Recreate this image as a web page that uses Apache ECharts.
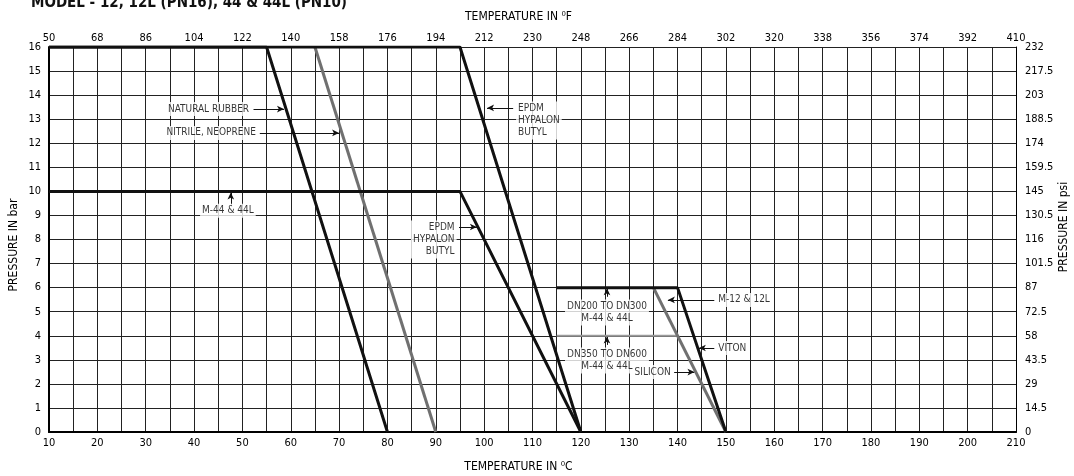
<!DOCTYPE html>
<html><head><meta charset="utf-8">
<script src="https://cdn.jsdelivr.net/npm/echarts@6/dist/echarts.min.js"></script>
<style>html,body{margin:0;padding:0;background:#fff}#c{width:1074px;height:476px}</style>
</head><body><div id="c"></div>
<script>
// ---- data (°C, bar) ----
const naturalRubber = [[10,16],[55,16],[80,0]];
const nitrileNeoprene = [[65,16],[90,0]];
const epdmPN16 = [[10,16],[95,16],[120,0]];
const m44PN10 = [[10,10],[95,10],[120,0]];
const m12Viton = [[115,6],[140,6],[150,0]];
const silicon = [[135,6],[150,0]];
const dn350Line = [[115,4],[140,4]];
// annotation texts and anchor points [°C, bar]
const annotations = [
  {text:'NATURAL RUBBER', at:[51.8,13.42], align:'right'},
  {text:'NITRILE, NEOPRENE', at:[53.2,12.43], align:'right'},
  {text:'EPDM\nHYPALON\nBUTYL', at:[106.6,12.95], align:'left'},
  {text:'M-44 & 44L', at:[47.0,9.2], align:'center'},
  {text:'EPDM\nHYPALON\nBUTYL', at:[94.3,8.0], align:'right'},
  {text:'DN200 TO DN300\nM-44 & 44L', at:[125.4,4.97], align:'center'},
  {text:'DN350 TO DN600\nM-44 & 44L', at:[125.4,2.97], align:'center'},
  {text:'M-12 & 12L', at:[148.0,5.49], align:'left'},
  {text:'VITON', at:[148.0,3.49], align:'left'},
  {text:'SILICON', at:[139.0,2.49], align:'right'}
];
// leader arrows: from -> to  [°C, bar]
const leaders = [
  [[52.3,13.42],[58.6,13.42]],
  [[53.6,12.43],[70.0,12.43]],
  [[106.0,13.47],[100.6,13.47]],
  [[47.6,9.45],[47.6,9.95]],
  [[94.8,8.52],[98.5,8.52]],
  [[125.4,5.62],[125.4,5.97]],
  [[125.4,3.62],[125.4,3.97]],
  [[147.6,5.49],[138.0,5.49]],
  [[147.6,3.49],[144.4,3.49]],
  [[139.3,2.49],[143.5,2.49]]
];
const cTicks = {min:10, max:210, step:10};
const barTicks = {min:0, max:16, step:1};
const psiPerBar = 14.5;

// pick the narrowest installed font
function pickFont(){
  const cands = ['Liberation Sans Narrow','DejaVu Sans Condensed','Liberation Sans'];
  const ctx = document.createElement('canvas').getContext('2d');
  const s = 'NATURAL RUBBER 0123456789';
  ctx.font = '40px monospace'; const mono = ctx.measureText(s).width;
  ctx.font = '40px serif'; const ser = ctx.measureText(s).width;
  for (const f of cands){
    ctx.font = "40px '"+f+"',monospace"; const w1 = ctx.measureText(s).width;
    ctx.font = "40px '"+f+"',serif"; const w2 = ctx.measureText(s).width;
    if (w1 !== mono || w2 !== ser) return "'"+f+"',sans-serif";
  }
  return 'sans-serif';
}
const FONT = pickFont();
const BLACK = '#111', GRAY = '#707070', TXT = '#000';
const TICK = 11;

function lineSeries(data, color, width, type){
  return {type:'line', data, symbol:'none', xAxisIndex:0, yAxisIndex:0,
    lineStyle:{color, width, type:type||'solid'}, z:5, animation:false, silent:true};
}
function vName(text, x, y){
  return {type:'text', x, y, rotation:Math.PI/2, silent:true,
    style:{text, x:0, y:0, align:'center', verticalAlign:'middle',
      font:'12px '+FONT, fill:TXT}};
}

const chart = echarts.init(document.getElementById('c'));
chart.setOption({
  animation:false,
  title:{text:'MODEL - 12, 12L (PN16), 44 & 44L (PN10)', left:26, top:-9,
    textStyle:{fontFamily:FONT, fontSize:15, fontWeight:'bold', color:'#111'}},
  grid:{left:49, right:58, top:47, bottom:44, outerBoundsMode:'none', containLabel:false},
  graphic:[vName('PRESSURE IN bar', 14, 245), vName('PRESSURE IN psi', 1064, 227)],
  xAxis:[
    {type:'value', position:'bottom', min:cTicks.min, max:cTicks.max, interval:cTicks.step,
     name:'TEMPERATURE IN \u2070C', nameLocation:'middle', nameGap:29,
     nameTextStyle:{fontFamily:FONT, fontSize:12, color:TXT, padding:[0,28,0,0]},
     axisLine:{lineStyle:{color:'#000', width:2}}, axisTick:{show:false},
     axisLabel:{fontFamily:FONT, fontSize:TICK, color:TXT, margin:6},
     splitLine:{show:true, lineStyle:{color:'#222', width:1}},
     minorTick:{show:false, splitNumber:2},
     minorSplitLine:{show:true, lineStyle:{color:'#222', width:1}}},
    {type:'value', position:'top', min:cTicks.min, max:cTicks.max, interval:cTicks.step,
     name:'TEMPERATURE IN \u2070F', nameLocation:'middle', nameGap:24,
     nameTextStyle:{fontFamily:FONT, fontSize:12, color:TXT, padding:[0,28,0,0]},
     axisLine:{show:true, lineStyle:{color:'#000', width:1}}, axisTick:{show:false},
     axisLabel:{fontFamily:FONT, fontSize:TICK, color:TXT, margin:3,
       formatter:v=>String(Math.round(v*1.8+32))},
     splitLine:{show:false}}
  ],
  yAxis:[
    {type:'value', position:'left', min:barTicks.min, max:barTicks.max, interval:barTicks.step,
     axisLine:{show:true, lineStyle:{color:'#000', width:2}}, axisTick:{show:false},
     axisLabel:{fontFamily:FONT, fontSize:TICK, color:TXT, margin:8},
     splitLine:{show:true, lineStyle:{color:'#222', width:1}}},
    {type:'value', position:'right', min:barTicks.min, max:barTicks.max, interval:barTicks.step,
     axisLine:{show:true, lineStyle:{color:'#000', width:1}}, axisTick:{show:false},
     axisLabel:{fontFamily:FONT, fontSize:TICK, color:TXT, margin:9,
       formatter:v=>String(Math.round(v*psiPerBar*10)/10)},
     splitLine:{show:false}}
  ],
  series:[
    lineSeries(dn350Line, '#9a9a9a', 2, 'solid'),
    lineSeries(naturalRubber, BLACK, 3),
    lineSeries(nitrileNeoprene, GRAY, 3),
    lineSeries(epdmPN16, BLACK, 3),
    lineSeries(m44PN10, BLACK, 3),
    lineSeries(silicon, GRAY, 3),
    lineSeries(m12Viton, BLACK, 3),
    {type:'scatter', symbolSize:0, z:8, animation:false, silent:true,
     data: annotations.map(a=>({value:a.at, name:a.text, label:{align:a.align}})),
     label:{show:true, position:'inside', formatter:p=>p.name, fontFamily:FONT,
       fontSize:10, color:TXT, lineHeight:12, backgroundColor:'#fff', padding:[1,2]}},
    {type:'line', data:[], symbol:'none', z:9, silent:true, animation:false,
     markLine:{symbol:['none','arrow'], symbolSize:[5,7], silent:true, animation:false,
       label:{show:false}, lineStyle:{color:'#111', width:1, type:'solid'},
       data: leaders.map(l=>[{coord:l[0]},{coord:l[1]}])}}
  ]
});
</script></body></html>
